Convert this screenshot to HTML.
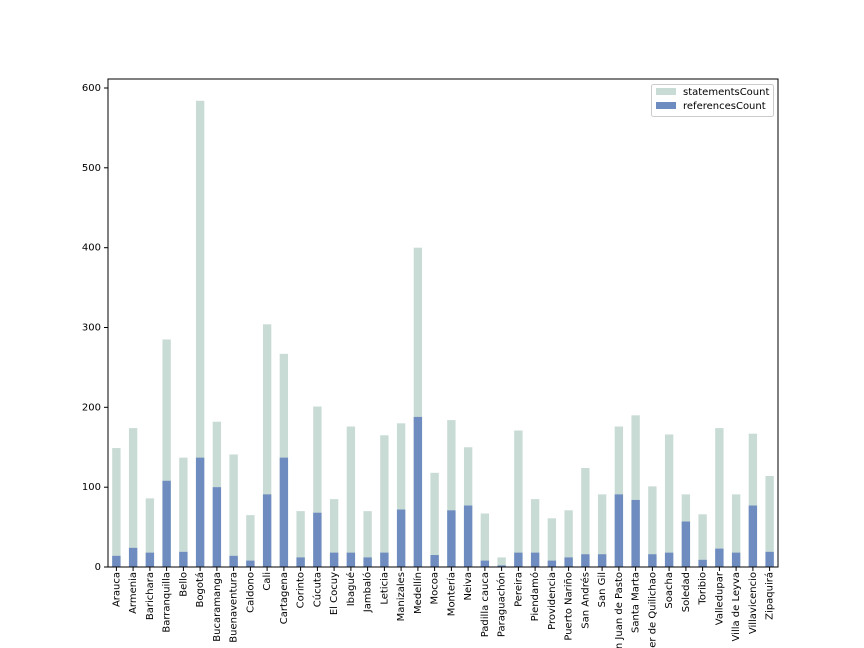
<!DOCTYPE html>
<html><head><meta charset="utf-8"><style>
html,body{margin:0;padding:0;background:#fff;width:864px;height:648px;overflow:hidden}
svg{display:block;font-family:"DejaVu Sans","Liberation Sans",sans-serif;font-size:10px}
</style></head><body>
<svg width="864" height="648" viewBox="0 0 864 648">
<g transform="translate(108,567) scale(16.75,-0.7983)">
<g fill="#c9dbd5">
<rect x="0.25" width="0.5" height="149"/><rect x="1.25" width="0.5" height="174"/><rect x="2.25" width="0.5" height="86"/><rect x="3.25" width="0.5" height="285"/><rect x="4.25" width="0.5" height="137"/><rect x="5.25" width="0.5" height="584"/><rect x="6.25" width="0.5" height="182"/><rect x="7.25" width="0.5" height="141"/><rect x="8.25" width="0.5" height="65"/><rect x="9.25" width="0.5" height="304"/><rect x="10.25" width="0.5" height="267"/><rect x="11.25" width="0.5" height="70"/><rect x="12.25" width="0.5" height="201"/><rect x="13.25" width="0.5" height="85"/><rect x="14.25" width="0.5" height="176"/><rect x="15.25" width="0.5" height="70"/><rect x="16.25" width="0.5" height="165"/><rect x="17.25" width="0.5" height="180"/><rect x="18.25" width="0.5" height="400"/><rect x="19.25" width="0.5" height="118"/><rect x="20.25" width="0.5" height="184"/><rect x="21.25" width="0.5" height="150"/><rect x="22.25" width="0.5" height="67"/><rect x="23.25" width="0.5" height="12"/><rect x="24.25" width="0.5" height="171"/><rect x="25.25" width="0.5" height="85"/><rect x="26.25" width="0.5" height="61"/><rect x="27.25" width="0.5" height="71"/><rect x="28.25" width="0.5" height="124"/><rect x="29.25" width="0.5" height="91"/><rect x="30.25" width="0.5" height="176"/><rect x="31.25" width="0.5" height="190"/><rect x="32.25" width="0.5" height="101"/><rect x="33.25" width="0.5" height="166"/><rect x="34.25" width="0.5" height="91"/><rect x="35.25" width="0.5" height="66"/><rect x="36.25" width="0.5" height="174"/><rect x="37.25" width="0.5" height="91"/><rect x="38.25" width="0.5" height="167"/><rect x="39.25" width="0.5" height="114"/>
</g>
<g fill="#6f8cc0">
<rect x="0.25" width="0.5" height="14"/><rect x="1.25" width="0.5" height="24"/><rect x="2.25" width="0.5" height="18"/><rect x="3.25" width="0.5" height="108"/><rect x="4.25" width="0.5" height="19"/><rect x="5.25" width="0.5" height="137"/><rect x="6.25" width="0.5" height="100"/><rect x="7.25" width="0.5" height="14"/><rect x="8.25" width="0.5" height="8"/><rect x="9.25" width="0.5" height="91"/><rect x="10.25" width="0.5" height="137"/><rect x="11.25" width="0.5" height="12"/><rect x="12.25" width="0.5" height="68"/><rect x="13.25" width="0.5" height="18"/><rect x="14.25" width="0.5" height="18"/><rect x="15.25" width="0.5" height="12"/><rect x="16.25" width="0.5" height="18"/><rect x="17.25" width="0.5" height="72"/><rect x="18.25" width="0.5" height="188"/><rect x="19.25" width="0.5" height="15"/><rect x="20.25" width="0.5" height="71"/><rect x="21.25" width="0.5" height="77"/><rect x="22.25" width="0.5" height="8"/><rect x="23.25" width="0.5" height="2"/><rect x="24.25" width="0.5" height="18"/><rect x="25.25" width="0.5" height="18"/><rect x="26.25" width="0.5" height="8"/><rect x="27.25" width="0.5" height="12"/><rect x="28.25" width="0.5" height="16"/><rect x="29.25" width="0.5" height="16"/><rect x="30.25" width="0.5" height="91"/><rect x="31.25" width="0.5" height="84"/><rect x="32.25" width="0.5" height="16"/><rect x="33.25" width="0.5" height="18"/><rect x="34.25" width="0.5" height="57"/><rect x="35.25" width="0.5" height="9"/><rect x="36.25" width="0.5" height="23"/><rect x="37.25" width="0.5" height="18"/><rect x="38.25" width="0.5" height="77"/><rect x="39.25" width="0.5" height="19"/>
</g>
</g>
<rect x="108" y="79" width="670" height="488" fill="none" stroke="#000" stroke-width="1"/>
<g stroke="#000">
<line x1="104" x2="108" y1="567" y2="567"/><line x1="104" x2="108" y1="487.2" y2="487.2"/><line x1="104" x2="108" y1="407.3" y2="407.3"/><line x1="104" x2="108" y1="327.5" y2="327.5"/><line x1="104" x2="108" y1="247.7" y2="247.7"/><line x1="104" x2="108" y1="167.8" y2="167.8"/><line x1="104" x2="108" y1="88" y2="88"/>
</g>
<g text-anchor="end" dominant-baseline="middle">
<text x="101" y="567">0</text><text x="101" y="487.2">100</text><text x="101" y="407.3">200</text><text x="101" y="327.5">300</text><text x="101" y="247.7">400</text><text x="101" y="167.8">500</text><text x="101" y="88">600</text>
</g>
<g text-anchor="end" dominant-baseline="middle">
<text transform="translate(116.4,572) rotate(-90)">Arauca</text>
<text transform="translate(133.1,572) rotate(-90)">Armenia</text>
<text transform="translate(149.9,572) rotate(-90)">Barichara</text>
<text transform="translate(166.6,572) rotate(-90)">Barranquilla</text>
<text transform="translate(183.4,572) rotate(-90)">Bello</text>
<text transform="translate(200.1,572) rotate(-90)">Bogotá</text>
<text transform="translate(216.9,572) rotate(-90)">Bucaramanga</text>
<text transform="translate(233.6,572) rotate(-90)">Buenaventura</text>
<text transform="translate(250.4,572) rotate(-90)">Caldono</text>
<text transform="translate(267.1,572) rotate(-90)">Cali</text>
<text transform="translate(283.9,572) rotate(-90)">Cartagena</text>
<text transform="translate(300.6,572) rotate(-90)">Corinto</text>
<text transform="translate(317.4,572) rotate(-90)">Cúcuta</text>
<text transform="translate(334.1,572) rotate(-90)">El Cocuy</text>
<text transform="translate(350.9,572) rotate(-90)">Ibagué</text>
<text transform="translate(367.6,572) rotate(-90)">Jambaló</text>
<text transform="translate(384.4,572) rotate(-90)">Leticia</text>
<text transform="translate(401.1,572) rotate(-90)">Manizales</text>
<text transform="translate(417.9,572) rotate(-90)">Medellín</text>
<text transform="translate(434.6,572) rotate(-90)">Mocoa</text>
<text transform="translate(451.4,572) rotate(-90)">Montería</text>
<text transform="translate(468.1,572) rotate(-90)">Neiva</text>
<text transform="translate(484.9,572) rotate(-90)">Padilla cauca</text>
<text transform="translate(501.6,572) rotate(-90)">Paraguachón</text>
<text transform="translate(518.4,572) rotate(-90)">Pereira</text>
<text transform="translate(535.1,572) rotate(-90)">Piendamó</text>
<text transform="translate(551.9,572) rotate(-90)">Providencia</text>
<text transform="translate(568.6,572) rotate(-90)">Puerto Nariño</text>
<text transform="translate(585.4,572) rotate(-90)">San Andrés</text>
<text transform="translate(602.1,572) rotate(-90)">San Gil</text>
<text transform="translate(618.9,572) rotate(-90)">San Juan de Pasto</text>
<text transform="translate(635.6,572) rotate(-90)">Santa Marta</text>
<text transform="translate(652.4,572) rotate(-90)">Santander de Quilichao</text>
<text transform="translate(669.1,572) rotate(-90)">Soacha</text>
<text transform="translate(685.9,572) rotate(-90)">Soledad</text>
<text transform="translate(702.6,572) rotate(-90)">Toribio</text>
<text transform="translate(719.4,572) rotate(-90)">Valledupar</text>
<text transform="translate(736.1,572) rotate(-90)">Villa de Leyva</text>
<text transform="translate(752.9,572) rotate(-90)">Villavicencio</text>
<text transform="translate(769.6,572) rotate(-90)">Zipaquirá</text>
</g>
<g stroke="#000" stroke-width="1">
<line x1="116.4" x2="116.4" y1="567" y2="571"/><line x1="133.1" x2="133.1" y1="567" y2="571"/><line x1="149.9" x2="149.9" y1="567" y2="571"/><line x1="166.6" x2="166.6" y1="567" y2="571"/><line x1="183.4" x2="183.4" y1="567" y2="571"/><line x1="200.1" x2="200.1" y1="567" y2="571"/><line x1="216.9" x2="216.9" y1="567" y2="571"/><line x1="233.6" x2="233.6" y1="567" y2="571"/><line x1="250.4" x2="250.4" y1="567" y2="571"/><line x1="267.1" x2="267.1" y1="567" y2="571"/><line x1="283.9" x2="283.9" y1="567" y2="571"/><line x1="300.6" x2="300.6" y1="567" y2="571"/><line x1="317.4" x2="317.4" y1="567" y2="571"/><line x1="334.1" x2="334.1" y1="567" y2="571"/><line x1="350.9" x2="350.9" y1="567" y2="571"/><line x1="367.6" x2="367.6" y1="567" y2="571"/><line x1="384.4" x2="384.4" y1="567" y2="571"/><line x1="401.1" x2="401.1" y1="567" y2="571"/><line x1="417.9" x2="417.9" y1="567" y2="571"/><line x1="434.6" x2="434.6" y1="567" y2="571"/><line x1="451.4" x2="451.4" y1="567" y2="571"/><line x1="468.1" x2="468.1" y1="567" y2="571"/><line x1="484.9" x2="484.9" y1="567" y2="571"/><line x1="501.6" x2="501.6" y1="567" y2="571"/><line x1="518.4" x2="518.4" y1="567" y2="571"/><line x1="535.1" x2="535.1" y1="567" y2="571"/><line x1="551.9" x2="551.9" y1="567" y2="571"/><line x1="568.6" x2="568.6" y1="567" y2="571"/><line x1="585.4" x2="585.4" y1="567" y2="571"/><line x1="602.1" x2="602.1" y1="567" y2="571"/><line x1="618.9" x2="618.9" y1="567" y2="571"/><line x1="635.6" x2="635.6" y1="567" y2="571"/><line x1="652.4" x2="652.4" y1="567" y2="571"/><line x1="669.1" x2="669.1" y1="567" y2="571"/><line x1="685.9" x2="685.9" y1="567" y2="571"/><line x1="702.6" x2="702.6" y1="567" y2="571"/><line x1="719.4" x2="719.4" y1="567" y2="571"/><line x1="736.1" x2="736.1" y1="567" y2="571"/><line x1="752.9" x2="752.9" y1="567" y2="571"/><line x1="769.6" x2="769.6" y1="567" y2="571"/>
</g>
<rect x="651.5" y="84.5" width="122" height="32" rx="2" fill="#fff" fill-opacity="0.8" stroke="#ccc"/>
<rect x="656" y="88" width="20" height="7" fill="#c9dbd5"/>
<rect x="656" y="102" width="20" height="7" fill="#6f8cc0"/>
<text x="683" y="95">statementsCount</text>
<text x="683" y="109">referencesCount</text>
</svg>
</body></html>
